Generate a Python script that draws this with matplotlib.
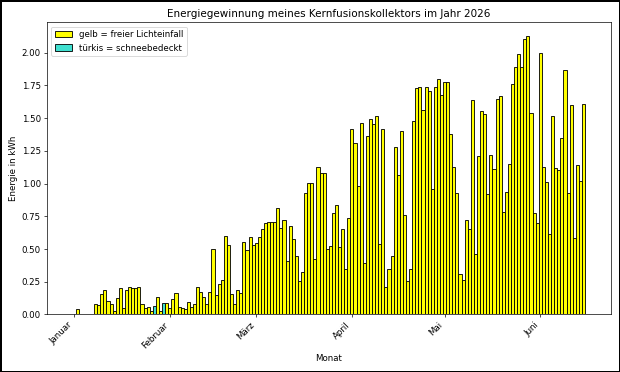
import matplotlib
matplotlib.use("Agg")
import matplotlib.pyplot as plt
import matplotlib.dates as mdates
from matplotlib.patches import Patch
import pandas as pd

# Tageswerte in kWh, 1. Januar bis 15. Juni 2026
jan = [0, 0.04, 0, 0, 0, 0, 0, 0.076, 0.07, 0.153, 0.183, 0.10, 0.08, 0.03,
       0.124, 0.20, 0.053, 0.19, 0.21, 0.20, 0.205, 0.21, 0.08, 0.053, 0.058,
       0.023, 0.066, 0.135, 0.025, 0.09, 0.085]
feb = [0.05, 0.12, 0.165, 0.058, 0.053, 0.045, 0.095, 0.058, 0.083, 0.212,
       0.172, 0.135, 0.081, 0.17, 0.50, 0.15, 0.234, 0.265, 0.60, 0.53,
       0.153, 0.081, 0.19, 0.163, 0.552, 0.489, 0.593, 0.534]
mar = [0.547, 0.59, 0.654, 0.70, 0.707, 0.707, 0.707, 0.81, 0.66, 0.72,
       0.41, 0.677, 0.573, 0.448, 0.257, 0.328, 0.93, 1.003, 1.008, 0.42,
       1.13, 1.08, 1.08, 0.50, 0.524, 0.776, 0.837, 0.517, 0.654, 0.35, 0.735]
apr = [1.42, 1.308, 0.98, 1.46, 0.39, 1.366, 1.494, 1.458, 1.519, 0.537,
       1.415, 0.211, 0.351, 0.445, 1.28, 1.069, 1.40, 0.76, 0.254, 0.346,
       1.48, 1.73, 1.74, 1.56, 1.735, 1.705, 0.96, 1.735, 1.80, 1.674]
mai = [1.78, 1.776, 1.38, 1.127, 0.93, 0.31, 0.265, 0.72, 0.65, 1.636,
       0.463, 1.21, 1.555, 1.534, 0.92, 1.216, 1.115, 1.646, 1.667, 0.784,
       0.936, 1.15, 1.76, 1.89, 1.99, 1.893, 2.104, 2.125, 1.537, 0.779, 0.70]
jun = [1.995, 1.13, 1.01, 0.616, 1.514, 1.117, 1.10, 1.349, 1.87, 0.929,
       1.60, 0.585, 1.14, 1.018, 1.608]

energie = jan + feb + mar + apr + mai + jun
tage = pd.date_range("2026-01-01", periods=len(energie), freq="D")

# Tage mit Schnee auf dem Kollektor
schneetage = ["2026-01-27", "2026-01-30"]

monatsnamen = ["Januar", "Februar", "März", "April", "Mai", "Juni",
               "Juli", "August", "September", "Oktober", "November", "Dezember"]

farben = ["turquoise" if t.strftime("%Y-%m-%d") in schneetage else "yellow" for t in tage]

fig, ax = plt.subplots(figsize=(10, 6), dpi=62, edgecolor="black", linewidth=1.5)
ax.bar(tage, energie, width=1, color=farben, edgecolor="black")

ax.xaxis.set_major_locator(mdates.MonthLocator())
ax.xaxis.set_major_formatter(plt.FuncFormatter(
    lambda x, pos: monatsnamen[mdates.num2date(x).month - 1]))
plt.setp(ax.get_xticklabels(), rotation=45, ha="right")

ax.set_title("Energiegewinnung meines Kernfusionskollektors im Jahr 2026")
ax.set_xlabel("Monat")
ax.set_ylabel("Energie in kWh")

legende = [Patch(facecolor="yellow", edgecolor="black", label="gelb = freier Lichteinfall"),
           Patch(facecolor="turquoise", edgecolor="black", label="türkis = schneebedeckt")]
ax.legend(handles=legende, loc="upper left")

plt.tight_layout()
plt.savefig("out.png")
